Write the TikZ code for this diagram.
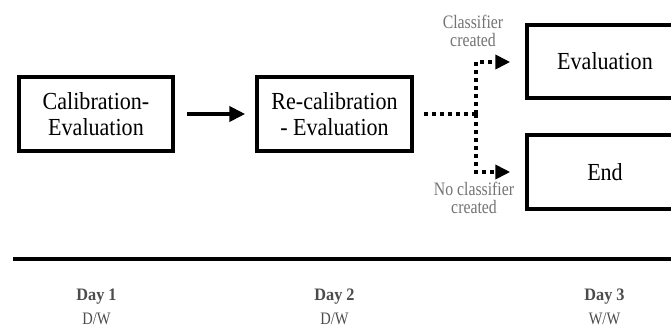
\documentclass[tikz,border=0pt]{standalone}
\usepackage{fontspec}
\setmainfont{Liberation Serif}
\newfontfamily\boxfont[FakeStretch=0.9]{Liberation Serif}
\newfontfamily\lblfont[FakeStretch=0.83]{Liberation Serif}
\newfontfamily\dayfont[FakeStretch=0.93]{Liberation Serif}
\usetikzlibrary{arrows.meta}
\definecolor{daygray}{gray}{0.3}
\definecolor{lblgray}{gray}{0.45}
\tikzset{
  stagebox/.style={draw=black, line width=3.5pt, minimum width=154pt, minimum height=74pt,
    inner sep=0pt, align=center, font=\boxfont\fontsize{24.5}{26}\selectfont},
  solidarrow/.style={line width=4pt, -{Triangle[length=16pt,width=15pt]}},
  dotline/.style={line width=4pt, dash pattern=on 4pt off 4pt, line cap=butt},
  dotarrow/.style={dotline, -{Triangle[length=15pt,width=14pt]}},
  branchlbl/.style={text=lblgray, align=center, font=\lblfont\fontsize{19}{17.5}\selectfont, anchor=base, inner sep=0pt},
  daylbl/.style={text=daygray, font=\dayfont\bfseries\fontsize{17.5}{19}\selectfont, anchor=base, inner sep=0pt},
  weeklbl/.style={text=daygray, font=\lblfont\fontsize{17.5}{19}\selectfont, anchor=base, inner sep=0pt},
}
\begin{document}
\begin{tikzpicture}[x=1pt, y=-1pt]
\useasboundingbox (0,0) rectangle (671,329);
\clip (0,0) rectangle (671,329);

\node[stagebox] (cal) at (96,114) {Calibration-\\Evaluation};
\node[stagebox, minimum width=155pt] (recal) at (334.5,114) {Re-calibration\\- Evaluation};
\node[stagebox, minimum width=156pt, minimum height=73pt] (eval) at (605,61.5) {Evaluation};
\node[stagebox, minimum width=156pt] (end) at (605,172) {End};

\draw[solidarrow] ([xshift=12pt]cal.east) -- ([xshift=-10pt]recal.west);

\coordinate (jn) at (476,114);
\coordinate (jt) at (476,62);
\coordinate (jb) at (476,172);
\draw[dotline] ([xshift=10pt]recal.east) -- (jn);
\draw[dotarrow] (jn) -- (jt) -- ([xshift=-15pt]eval.west |- jt);
\draw[dotarrow] (jn) -- (jb) -- ([xshift=-15pt]end.west |- jb);

\node[branchlbl] (cc) at (473,46) {Classifier\\created};
\node[branchlbl] (nc) at (474,213) {No classifier\\created};

\coordinate (tl) at (13,259);
\coordinate (tr) at (690,259);
\draw[line width=3.5pt, -{Triangle[length=18pt,width=16pt]}] (tl) -- (tr);

\node[daylbl] (d1) at (96.5,300) {Day 1};
\node[daylbl] (d2) at (334.5,300) {Day 2};
\node[daylbl] (d3) at (604.5,300) {Day 3};
\node[weeklbl] (w1) at (96.5,324) {D/W};
\node[weeklbl] (w2) at (334.5,324) {D/W};
\node[weeklbl] (w3) at (604.5,324) {W/W};
\end{tikzpicture}
\end{document}
